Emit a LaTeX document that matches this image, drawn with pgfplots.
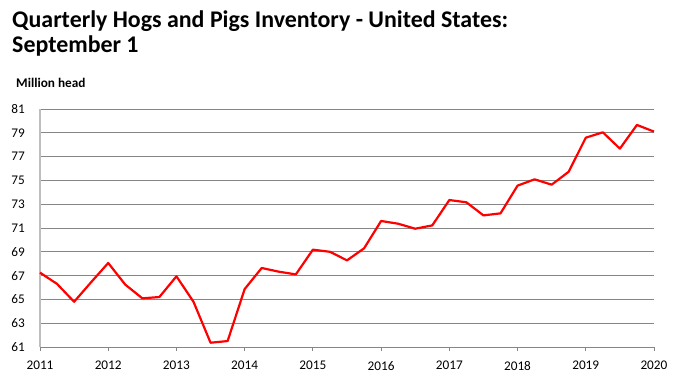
\documentclass[border=0pt]{standalone}
\usepackage{pgfplots}
\pgfplotsset{compat=1.18}
\usepackage{fontspec}
\setmainfont{Carlito}
\definecolor{gridgray}{RGB}{134,134,134}
\definecolor{axgray}{RGB}{190,190,190}
\begin{document}
\begin{tikzpicture}[x=1bp,y=1bp]
\path[use as bounding box] (0,0) rectangle (688,389);
\node[anchor=base west, font=\fontsize{24}{28}\selectfont\bfseries, inner sep=0] at (12,362) {Quarterly Hogs and Pigs Inventory - United States:};
\node[anchor=base west, font=\fontsize{24}{28}\selectfont\bfseries, inner sep=0] at (12,336.5) {September 1};
\node[anchor=base west, font=\fontsize{13.3}{15}\selectfont\bfseries, inner sep=0] at (16,302) {Million head};
\begin{axis}[
  at={(40bp,42bp)}, anchor=south west,
  scale only axis, width=614bp, height=238bp,
  xmin=2011, xmax=2020, ymin=61, ymax=81,
  axis lines=left,
  axis line style={-},
  x axis line style={draw=gridgray, line width=1bp},
  y axis line style={draw=axgray, line width=1.6bp},
  ytick={61,63,...,81},
  xtick={2011,2012,...,2020},
  xticklabels={2011,2012,2013,2014,2015,2016,2017,2018,2019,2020},
  minor x tick num=3,
  xtick align=outside,
  major tick length=4bp, minor tick length=4bp,
  xtick style={draw=gridgray, line width=0.8bp},
  ytick style={draw=none},
  ymajorgrids,
  grid style={draw=gridgray, line width=0.9bp},
  /pgf/number format/assume math mode=true,
  tick label style={font=\fontsize{13.3}{15}\selectfont, text=black},
  yticklabel style={anchor=east, inner sep=0pt, xshift=-13bp},
  xticklabel style={anchor=north, inner sep=0pt, yshift=-10bp},
  clip=false,
]
\addplot[red, line width=2.2bp, line join=round] coordinates {
(2011.00,67.25) (2011.25,66.3) (2011.50,64.8) (2011.75,66.45)
(2012.00,68.06) (2012.25,66.24) (2012.50,65.09) (2012.75,65.2)
(2013.00,66.94) (2013.25,64.8) (2013.50,61.36) (2013.75,61.5)
(2014.00,65.87) (2014.25,67.64) (2014.50,67.33) (2014.75,67.1)
(2015.00,69.18) (2015.25,69.0) (2015.50,68.28) (2015.75,69.29)
(2016.00,71.59) (2016.25,71.36) (2016.50,70.94) (2016.75,71.22)
(2017.00,73.35) (2017.25,73.16) (2017.50,72.06) (2017.75,72.23)
(2018.00,74.56) (2018.25,75.09) (2018.50,74.64) (2018.75,75.73)
(2019.00,78.59) (2019.25,79.04) (2019.50,77.67) (2019.75,79.66)
(2020.00,79.1)
};
\end{axis}
\end{tikzpicture}
\end{document}
